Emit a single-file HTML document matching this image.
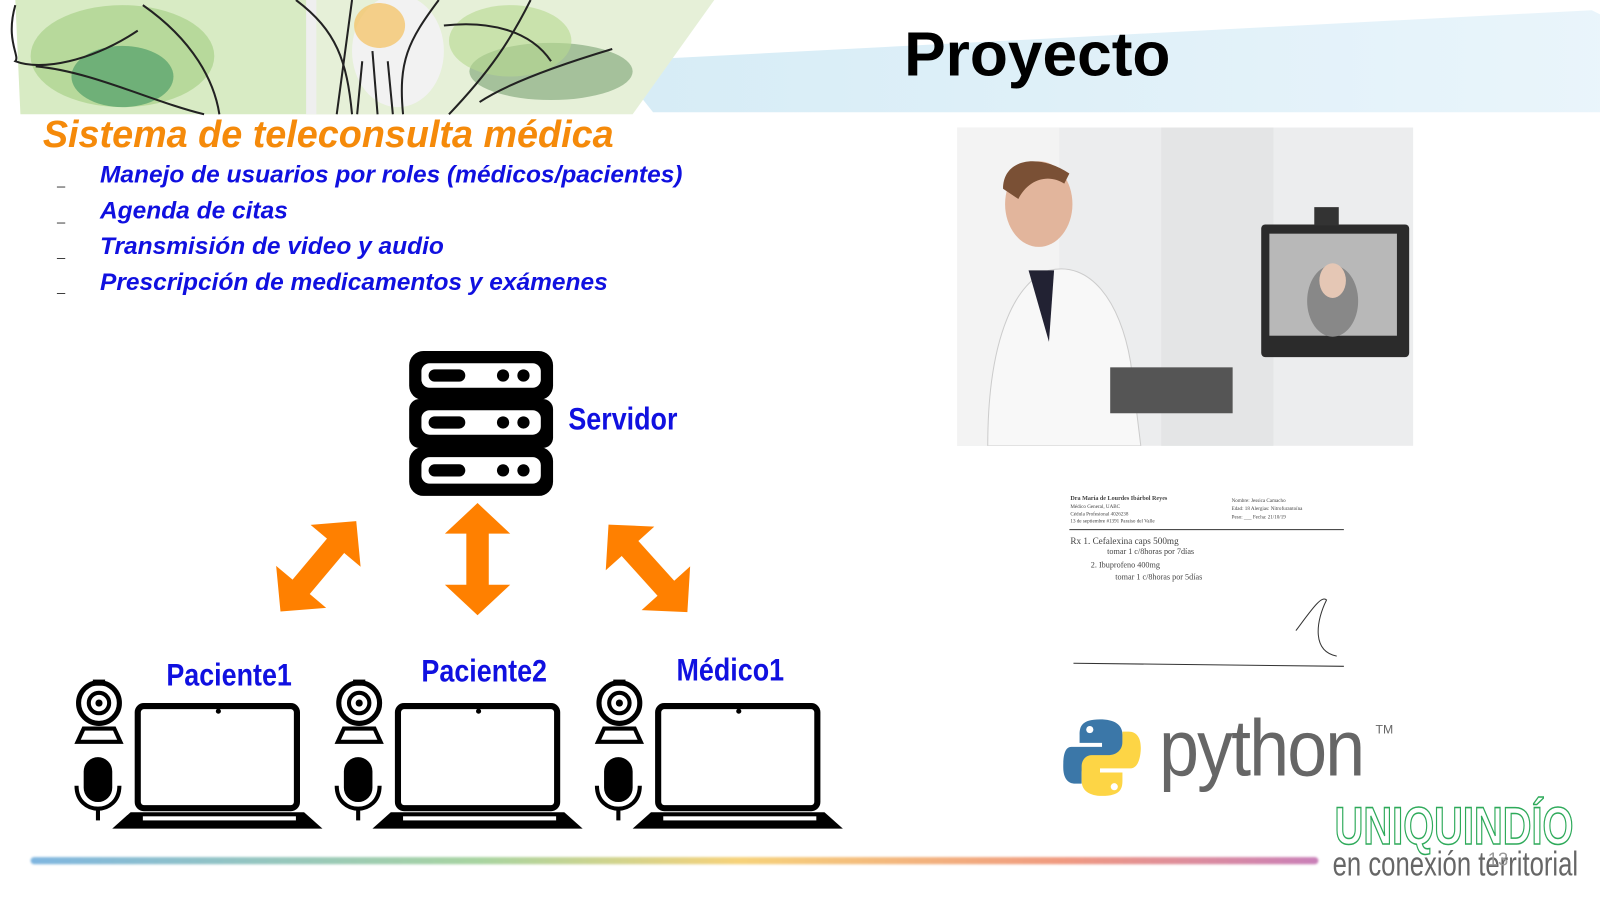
<!DOCTYPE html>
<html><head><meta charset="utf-8"><style>
body{margin:0;width:1600px;height:900px;background:#fff;position:relative;overflow:hidden;font-family:"Liberation Sans",sans-serif}
#w{position:absolute;left:0;top:0;width:1568px;height:882px;transform:scale(1.0204);transform-origin:0 0}
.abs{position:absolute}
.t{font-style:italic;font-weight:bold;color:#1010e0;font-size:24px;white-space:nowrap}
.d{left:56px;font-size:14px;color:#333}
.lbl{font-weight:bold;color:#1010e0;font-size:31px;transform:scaleX(.85);transform-origin:left;white-space:nowrap}
</style></head><body><div id="w">
<svg class="abs" style="left:0;top:0" width="1600" height="115">
<defs>
<linearGradient id="sky" x1="0" x2="1"><stop offset="0" stop-color="#d6ecf6"/><stop offset="1" stop-color="#eaf5fb"/></linearGradient>
</defs>
<polygon points="600,60 1560,10 1600,30 1600,110 640,110" fill="url(#sky)"/>
<polygon points="15,0 440,0 440,112 20,112" fill="#d8ebc4"/>
<ellipse cx="120" cy="55" rx="90" ry="50" fill="#a9d18a" opacity=".7"/>
<ellipse cx="120" cy="75" rx="50" ry="30" fill="#3f9460" opacity=".6"/>
<polygon points="300,0 470,0 420,112 300,112" fill="#efefef"/>
<polygon points="310,0 700,0 620,112 310,112" fill="#e6f0d8"/>
<ellipse cx="390" cy="50" rx="45" ry="55" fill="#f2f2f2"/>
<ellipse cx="372" cy="25" rx="25" ry="22" fill="#f4c66e" opacity=".8"/>
<ellipse cx="540" cy="70" rx="80" ry="28" fill="#6f9a6a" opacity=".55"/>
<ellipse cx="500" cy="40" rx="60" ry="35" fill="#b5d88f" opacity=".6"/>
<g stroke="#222" stroke-width="2" fill="none">
<path d="M15,5 C5,40 20,55 15,60 C40,70 90,60 135,30"/>
<path d="M35,65 C90,70 150,100 200,112"/>
<path d="M140,5 C190,40 210,80 215,112"/>
<path d="M345,0 L330,112 M355,60 L350,112 M365,50 L370,112 M380,60 L385,112"/>
<path d="M290,0 C330,30 340,60 345,112"/>
<path d="M430,0 C400,40 390,60 395,112"/>
<path d="M520,0 C500,40 480,70 440,112"/>
<path d="M600,48 C560,60 500,80 470,100"/>
<path d="M435,25 C480,20 520,30 540,60"/>
</g>
</svg>
<div class="abs" style="left:886px;top:18px;font-size:61px;font-weight:bold">Proyecto</div>
<div class="abs" style="left:42px;top:111px;font-size:37px;font-weight:bold;font-style:italic;color:#f58a0a;white-space:nowrap">Sistema de teleconsulta médica</div>
<div class="abs t" style="left:98px;top:158px">Manejo de usuarios por roles (médicos/pacientes)</div>
<div class="abs t" style="left:98px;top:193px">Agenda de citas</div>
<div class="abs t" style="left:98px;top:228px">Transmisión de video y audio</div>
<div class="abs t" style="left:98px;top:263px">Prescripción de medicamentos y exámenes</div>
<div class="abs d" style="top:168px">_</div><div class="abs d" style="top:203px">_</div><div class="abs d" style="top:238px">_</div><div class="abs d" style="top:272px">_</div>

<svg class="abs" style="left:938px;top:125px" width="447" height="312">
<rect width="447" height="312" fill="#ecedee"/>
<rect x="0" y="0" width="100" height="312" fill="#f3f3f3"/>
<rect x="200" y="0" width="110" height="312" fill="#e4e5e6"/>
<path d="M30,312 C30,200 60,150 90,140 C130,130 160,170 170,230 L180,312Z" fill="#f8f8f8" stroke="#ccc"/>
<ellipse cx="80" cy="75" rx="33" ry="42" fill="#e2b59c"/>
<path d="M45,60 C45,30 80,25 110,45 L105,55 C90,45 70,50 60,70Z" fill="#7a5035"/>
<polygon points="70,140 95,140 90,210" fill="#223"/>
<rect x="150" y="235" width="120" height="45" fill="#555"/>
<rect x="298" y="95" width="145" height="130" rx="4" fill="#2b2b2b"/>
<rect x="306" y="104" width="125" height="100" fill="#b8b8b8"/>
<ellipse cx="368" cy="170" rx="25" ry="35" fill="#888"/>
<ellipse cx="368" cy="150" rx="13" ry="17" fill="#e5c7b5"/>
<rect x="350" y="78" width="24" height="18" fill="#333"/>
</svg>

<svg class="abs" style="left:1045px;top:478px" width="280" height="180" font-family="Liberation Serif" font-size="7" fill="#444">
<text x="4" y="12" font-weight="bold" font-size="6">Dra María de Lourdes Ibárbol Reyes</text>
<text x="4" y="20" font-size="5">Médico General, UABC</text>
<text x="4" y="27" font-size="5">Cédula Profesional 4026238</text>
<text x="4" y="34" font-size="5">13 de septiembre #1391 Paraíso del Valle</text>
<text x="162" y="14" font-size="5">Nombre: Jessica Camacho</text>
<text x="162" y="22" font-size="5">Edad: 18 Alergias: Nitrofurantoína</text>
<text x="162" y="30" font-size="5">Peso: ___ Fecha: 21/10/19</text>
<line x1="3" y1="41" x2="272" y2="41" stroke="#333"/>
<text x="4" y="55" font-size="9">Rx 1. Cefalexina caps 500mg</text>
<text x="40" y="65" font-size="8">tomar 1 c/8horas por 7días</text>
<text x="24" y="78" font-size="8">2. Ibuprofeno 400mg</text>
<text x="48" y="90" font-size="8">tomar 1 c/8horas por 5días</text>
<path d="M225,140 C240,120 250,105 255,110 C245,130 240,160 265,165" stroke="#333" fill="none"/>
<line x1="7" y1="172" x2="272" y2="175" stroke="#333"/>
</svg>

<svg class="abs" style="left:398px;top:342px" width="148" height="146">
<g fill="#000">
<rect x="3" y="2" width="141" height="48" rx="14"/><rect x="3" y="49" width="141" height="48" rx="10"/><rect x="3" y="96" width="141" height="48" rx="14"/>
</g>
<g fill="#fff">
<rect x="15" y="14" width="117" height="24" rx="8"/><rect x="15" y="60" width="117" height="24" rx="8"/><rect x="15" y="106" width="117" height="26" rx="8"/>
</g>
<g fill="#000">
<rect x="22" y="20" width="36" height="12" rx="6"/><rect x="22" y="66" width="36" height="12" rx="6"/><rect x="22" y="113" width="36" height="12" rx="6"/>
<circle cx="95" cy="26" r="6"/><circle cx="115" cy="26" r="6"/>
<circle cx="95" cy="72" r="6"/><circle cx="115" cy="72" r="6"/>
<circle cx="95" cy="119" r="6"/><circle cx="115" cy="119" r="6"/>
</g>
</svg>
<div class="abs lbl" style="left:557px;top:393px">Servidor</div>

<svg class="abs" style="left:0;top:0" width="900" height="900">
<defs><polygon id="da" points="0,-55 32,-25 11,-25 11,25 32,25 0,55 -32,25 -11,25 -11,-25 -32,-25" fill="#ff8000"/></defs>
<use href="#da" transform="translate(468,548)"/>
<use href="#da" transform="translate(312,555) rotate(40) scale(1,1.05)"/>
<use href="#da" transform="translate(635,557) rotate(-42) scale(1,1.05)"/>
</svg>

<svg class="abs" style="left:0;top:0" width="900" height="900">
<defs>
<g id="dev">
<circle cx="97" cy="689" r="20" fill="none" stroke="#000" stroke-width="5"/>
<circle cx="97" cy="689" r="10" fill="none" stroke="#000" stroke-width="4"/>
<circle cx="97" cy="689" r="3.5" fill="#000"/>
<rect x="91" y="666" width="12" height="6" fill="#000"/>
<path d="M82,714 L112,714 L118,727 L76,727Z" fill="none" stroke="#000" stroke-width="4"/>
<rect x="82" y="742" width="28" height="44" rx="14" fill="#000"/>
<path d="M75,770 C75,800 117,800 117,770" fill="none" stroke="#000" stroke-width="4"/>
<line x1="96" y1="793" x2="96" y2="804" stroke="#000" stroke-width="4"/>
<rect x="135" y="692" width="156" height="100" rx="6" fill="none" stroke="#000" stroke-width="6"/>
<circle cx="214" cy="697" r="2.5" fill="#000"/>
<path d="M128,796 L298,796 L316,812 L110,812Z" fill="#000"/>
<rect x="140" y="800" width="150" height="4" fill="#fff"/>
</g>
</defs>
<use href="#dev"/>
<use href="#dev" transform="translate(255,0)"/>
<use href="#dev" transform="translate(510,0)"/>
</svg>
<div class="abs lbl" style="left:163px;top:644px">Paciente1</div>
<div class="abs lbl" style="left:413px;top:640px">Paciente2</div>
<div class="abs lbl" style="left:663px;top:639px">Médico1</div>

<div class="abs" style="left:30px;top:840px;width:1262px;height:7px;border-radius:4px;background:linear-gradient(90deg,#7fb6e0,#a8d4a0 35%,#f6d27a 55%,#f09a80 80%,#c97fb8);filter:blur(1px)"></div>

<svg class="abs" style="left:1040px;top:700px" width="80" height="90">
<path d="M38,5 C20,5 18,12 18,20 V28 H40 V32 H10 C2,32 2,45 2,52 C2,62 6,68 14,68 H20 V58 C20,50 26,45 34,45 H50 C56,45 60,40 60,34 V20 C60,10 52,5 38,5Z" fill="#3b77a8"/>
<path d="M40,80 C58,80 60,73 60,65 V57 H38 V53 H68 C76,53 78,40 78,33 C78,23 74,17 66,17 H60 V27 C60,35 54,40 46,40 H30 C24,40 20,45 20,51 V65 C20,75 28,80 40,80Z" fill="#fdd545"/>
<circle cx="28" cy="15" r="3.5" fill="#fff"/><circle cx="52" cy="71" r="3.5" fill="#fff"/>
</svg>
<div class="abs" style="left:1136px;top:688px;font-size:78px;color:#666;letter-spacing:-2px;transform:scaleX(.9);transform-origin:left;white-space:nowrap">python</div>
<div class="abs" style="left:1348px;top:708px;font-size:12px;color:#666">TM</div>

<div class="abs" style="left:1308px;top:780px;font-size:52px;font-weight:bold;color:#fff;-webkit-text-stroke:1.5px #2eaa5a;transform:scaleX(.75);transform-origin:left;white-space:nowrap">UNIQUINDÍO</div>
<div class="abs" style="left:1306px;top:828px;font-size:34px;color:#666;transform:scaleX(.74);transform-origin:left;white-space:nowrap">en conexión territorial</div>
<div class="abs" style="left:1458px;top:832px;font-size:18px;color:#999">13</div>
</div></body></html>
